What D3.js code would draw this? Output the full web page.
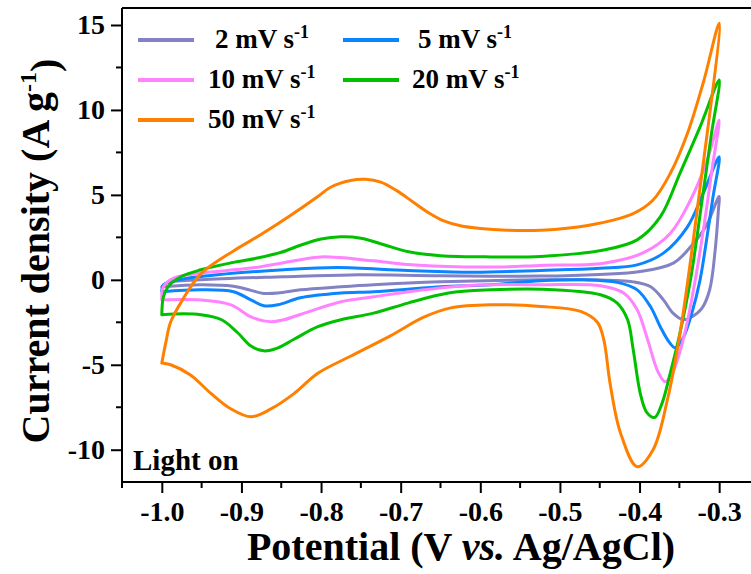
<!DOCTYPE html>
<html>
<head>
<meta charset="utf-8">
<script src="https://cdn.jsdelivr.net/npm/d3@7"></script>
<style>
  html, body { margin: 0; padding: 0; background: #fff; }
  svg { display: block; }
  text { font-family: "Liberation Serif", "Times New Roman", serif; font-weight: bold; fill: #000; }
</style>
</head>
<body>
<svg id="chart" width="751" height="574"></svg>
<script>
// Cyclic voltammograms, [potential (V), current density (A/g)], anodic sweep then cathodic return
const cv2 = [
  [-1.000,-0.41],[-0.994,-0.18],[-0.951,0.00],[-0.847,0.18],[-0.763,0.29],[-0.650,0.24],[-0.524,0.22],
  [-0.450,0.32],[-0.399,0.49],[-0.357,1.00],[-0.334,2.05],[-0.316,3.20],[-0.300,4.90],
  [-0.301,4.10],[-0.305,1.76],[-0.312,-0.60],[-0.322,-1.70],[-0.335,-2.20],[-0.345,-2.35],[-0.358,-1.96],
  [-0.370,-1.18],[-0.386,-0.41],[-0.408,-0.12],[-0.460,0.00],[-0.524,0.00],[-0.650,-0.12],[-0.734,-0.29],
  [-0.775,-0.41],[-0.826,-0.59],[-0.854,-0.78],[-0.872,-0.80],[-0.888,-0.62],[-0.910,-0.38],[-0.951,-0.29],
  [-1.000,-0.41]
];
const cv5 = [
  [-1.000,-0.70],[-0.998,-0.30],[-0.980,0.00],[-0.930,0.30],[-0.847,0.59],[-0.780,0.72],[-0.691,0.55],
  [-0.608,0.45],[-0.524,0.55],[-0.450,0.68],[-0.403,0.88],[-0.370,1.57],[-0.340,3.10],[-0.320,5.10],[-0.300,7.24],
  [-0.308,4.80],[-0.316,2.30],[-0.324,0.00],[-0.334,-1.90],[-0.345,-3.40],[-0.355,-4.00],[-0.363,-3.65],
  [-0.374,-2.76],[-0.386,-1.60],[-0.403,-0.59],[-0.428,-0.15],[-0.470,0.00],[-0.524,-0.05],[-0.587,-0.29],
  [-0.650,-0.41],[-0.734,-0.70],[-0.775,-0.78],[-0.826,-1.06],[-0.854,-1.47],[-0.872,-1.53],[-0.888,-1.18],
  [-0.910,-0.70],[-0.951,-0.59],[-1.000,-0.70]
];
const cv10 = [
  [-1.000,-1.18],[-0.998,-0.40],[-0.985,0.10],[-0.951,0.40],[-0.888,0.69],[-0.826,1.18],[-0.800,1.35],
  [-0.734,1.12],[-0.691,0.90],[-0.620,0.76],[-0.571,0.76],[-0.524,0.85],[-0.445,0.98],[-0.395,1.60],
  [-0.361,2.76],[-0.336,4.70],[-0.315,7.06],[-0.300,9.40],
  [-0.309,6.50],[-0.319,3.20],[-0.330,0.00],[-0.342,-2.90],[-0.353,-4.80],[-0.361,-5.70],[-0.368,-6.00],
  [-0.377,-5.40],[-0.390,-3.50],[-0.403,-1.76],[-0.420,-0.78],[-0.449,-0.35],[-0.524,-0.29],
  [-0.609,-0.32],[-0.671,-0.59],[-0.734,-1.00],[-0.775,-1.29],[-0.817,-1.90],[-0.847,-2.35],[-0.863,-2.47],
  [-0.888,-2.18],[-0.913,-1.47],[-0.951,-1.18],[-1.000,-1.18]
];
const cv20 = [
  [-1.000,-2.06],[-0.998,-1.00],[-0.992,-0.40],[-0.976,0.18],[-0.951,0.59],[-0.913,1.00],[-0.880,1.28],
  [-0.850,1.62],[-0.825,2.05],[-0.800,2.40],[-0.775,2.53],[-0.750,2.45],[-0.720,2.05],[-0.690,1.65],
  [-0.650,1.42],[-0.587,1.35],
  [-0.524,1.38],[-0.445,1.76],[-0.403,2.35],[-0.374,3.70],[-0.349,6.30],[-0.324,9.00],[-0.300,11.76],
  [-0.310,8.50],[-0.322,4.50],[-0.336,0.00],[-0.350,-3.30],[-0.362,-5.60],[-0.372,-7.30],[-0.381,-8.10],
  [-0.391,-7.80],[-0.399,-6.70],[-0.408,-4.10],[-0.415,-2.35],[-0.428,-1.37],[-0.449,-0.88],[-0.524,-0.55],
  [-0.587,-0.59],[-0.640,-0.78],[-0.691,-1.37],[-0.734,-1.96],[-0.775,-2.35],[-0.804,-2.76],[-0.834,-3.50],
  [-0.854,-4.00],[-0.872,-4.18],[-0.888,-3.90],[-0.905,-3.10],[-0.925,-2.35],[-0.951,-2.06],[-0.972,-2.00],
  [-1.000,-2.06]
];
const cv50 = [
  [-1.000,-4.90],[-0.995,-3.70],[-0.989,-2.50],[-0.974,-1.18],[-0.951,0.35],[-0.910,1.70],[-0.876,2.65],
  [-0.838,3.80],[-0.804,4.90],[-0.788,5.45],[-0.763,5.85],[-0.744,5.92],[-0.725,5.75],[-0.705,5.25],
  [-0.685,4.60],[-0.665,3.95],[-0.645,3.45],[-0.625,3.18],[-0.600,3.02],[-0.566,2.92],[-0.524,2.92],
  [-0.465,3.20],[-0.408,3.90],[-0.383,4.70],[-0.361,6.30],[-0.340,8.60],[-0.320,11.60],[-0.300,15.10],
  [-0.326,4.70],[-0.349,-3.10],[-0.365,-7.06],[-0.383,-10.00],[-0.403,-11.00],[-0.424,-9.00],[-0.437,-6.10],
  [-0.445,-3.50],[-0.453,-2.50],[-0.474,-1.86],[-0.524,-1.57],[-0.587,-1.47],[-0.637,-1.65],[-0.671,-2.20],
  [-0.713,-3.30],[-0.763,-4.50],[-0.804,-5.50],[-0.834,-6.70],[-0.863,-7.60],[-0.888,-8.06],[-0.913,-7.60],
  [-0.938,-6.70],[-0.964,-5.60],[-0.989,-5.00],[-1.000,-4.90]
];

const scanRates = ["2", "5", "10", "20", "50"];
const seriesData = [cv2, cv5, cv10, cv20, cv50];
const seriesColors = ["#8282c4", "#0a84ff", "#ff82ff", "#00c000", "#ff8000"];

const xMajorTicks = [-1.0, -0.9, -0.8, -0.7, -0.6, -0.5, -0.4, -0.3];
const xMinorTicks = [-1.05, -0.95, -0.85, -0.75, -0.65, -0.55, -0.45, -0.35];
const yMajorTicks = [-10, -5, 0, 5, 10, 15];
const yMinorTicks = [-7.5, -2.5, 2.5, 7.5, 12.5];

const svg = d3.select("#chart");
const plot = { left: 122, right: 755, top: 8, bottom: 482 };

const x = d3.scaleLinear().domain([-1.05, -0.255]).range([plot.left, plot.right]);
const y = d3.scaleLinear().domain([-11.9, 16]).range([plot.bottom, plot.top]);

// plain hyphen for negative tick labels
const hyphenate = f => d => f(d).replace("\u2212", "-");

// curves
const line = d3.line()
  .x(d => x(d[0]))
  .y(d => y(d[1]))
  .curve(d3.curveCatmullRom.alpha(0.5));

svg.append("g")
  .selectAll("path")
  .data(seriesData)
  .join("path")
  .attr("d", line)
  .attr("fill", "none")
  .attr("stroke", (d, i) => seriesColors[i])
  .attr("stroke-width", 3)
  .attr("stroke-linejoin", "round")
  .attr("stroke-linecap", "round");

// frame
svg.append("line")
  .attr("x1", plot.left).attr("x2", plot.right)
  .attr("y1", plot.top).attr("y2", plot.top)
  .attr("stroke", "#000").attr("stroke-width", 2);

// x axis
const xAxis = d3.axisBottom(x)
  .tickValues(xMajorTicks)
  .tickFormat(hyphenate(d3.format(".1f")))
  .tickSize(11)
  .tickPadding(8);
const gx = svg.append("g")
  .attr("transform", `translate(0,${plot.bottom})`)
  .call(xAxis);
gx.append("g").selectAll("line")
  .data(xMinorTicks)
  .join("line")
  .attr("x1", d => x(d)).attr("x2", d => x(d))
  .attr("y1", 0).attr("y2", 6)
  .attr("stroke", "#000").attr("stroke-width", 2);

// y axis
const yAxis = d3.axisLeft(y)
  .tickValues(yMajorTicks)
  .tickFormat(hyphenate(d3.format("d")))
  .tickSize(11)
  .tickPadding(6);
const gy = svg.append("g")
  .attr("transform", `translate(${plot.left},0)`)
  .call(yAxis);
gy.append("g").selectAll("line")
  .data(yMinorTicks)
  .join("line")
  .attr("x1", 0).attr("x2", -6)
  .attr("y1", d => y(d)).attr("y2", d => y(d))
  .attr("stroke", "#000").attr("stroke-width", 2);

[gx, gy].forEach(g => {
  g.select(".domain").attr("stroke", "#000").attr("stroke-width", 2);
  g.selectAll(".tick line").attr("stroke", "#000").attr("stroke-width", 2);
  g.selectAll(".tick text")
    .attr("fill", "#000")
    .style("font-family", '"Liberation Serif", "Times New Roman", serif')
    .style("font-weight", "bold")
    .style("font-size", "28px");
});
gx.selectAll(".tick text").attr("dy", "0.71em");
gx.select(".domain").attr("d", `M${plot.left},0H${plot.right}`);
gy.select(".domain").attr("d", `M0,${plot.top}V${plot.bottom}`);

// axis titles
const xTitle = svg.append("text")
  .attr("x", 461).attr("y", 560)
  .attr("text-anchor", "middle")
  .style("font-size", "40px");
xTitle.append("tspan").text("Potential (V ");
xTitle.append("tspan").style("font-style", "italic").text("vs.");
xTitle.append("tspan").text(" Ag/AgCl)");

const yTitle = svg.append("text")
  .attr("transform", "translate(49,251) rotate(-90)")
  .attr("text-anchor", "middle")
  .style("font-size", "40px");
yTitle.append("tspan").text("Current density (A g");
yTitle.append("tspan").attr("dy", "-0.55em").style("font-size", "24px").text("-1");
yTitle.append("tspan").attr("dy", "0.55em").text(")");

// legend
const legendItems = [
  { i: 0, lx: 138, ty: 40, tx: 215 },
  { i: 1, lx: 343, ty: 40, tx: 418 },
  { i: 2, lx: 138, ty: 80, tx: 208 },
  { i: 3, lx: 343, ty: 80, tx: 412 },
  { i: 4, lx: 138, ty: 120, tx: 208 }
];
const legend = svg.append("g");
legendItems.forEach(item => {
  legend.append("line")
    .attr("x1", item.lx).attr("x2", item.lx + 56)
    .attr("y1", item.ty).attr("y2", item.ty)
    .attr("stroke", seriesColors[item.i])
    .attr("stroke-width", 4);
  const t = legend.append("text")
    .attr("x", item.tx).attr("y", item.ty + 8)
    .style("font-size", "27px");
  t.append("tspan").text(`${scanRates[item.i]} mV s`);
  t.append("tspan").attr("dy", "-0.55em").style("font-size", "18px").text("-1");
});

// annotation
svg.append("text")
  .attr("x", 133).attr("y", 470)
  .style("font-size", "29px")
  .text("Light on");
</script>
</body>
</html>
